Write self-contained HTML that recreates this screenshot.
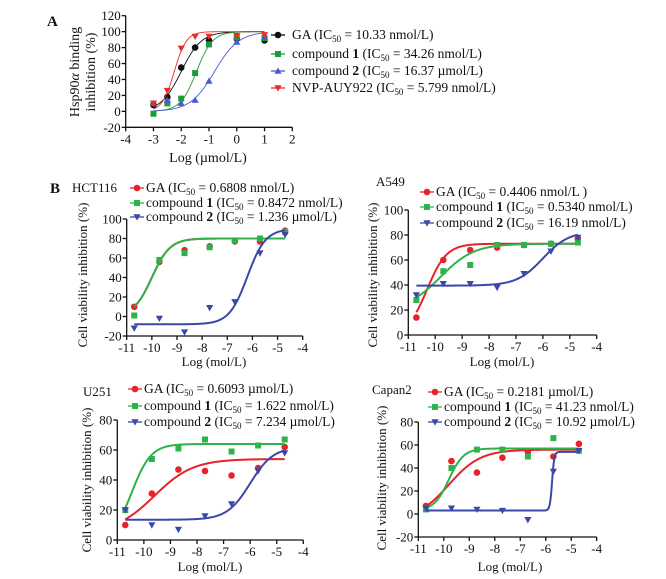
<!DOCTYPE html>
<html><head><meta charset="utf-8">
<style>
html,body{margin:0;padding:0;background:#fff;}
svg{display:block;font-family:"Liberation Serif",serif;}
</style></head>
<body>
<svg id="fig" width="666" height="579" viewBox="0 0 666 579" xmlns="http://www.w3.org/2000/svg"></svg>
<script>
// ---------- data ----------
const aX = [-3,-2.5,-2,-1.5,-1,0,1];
const aGA = [8,18,55,80,89,91,89];
const aC1 = [-3,10,16,48,84,93,92];
const aC2 = [10,14,10,14,38,87,93];
const aNVP = [10,26,79,94,94,95,96];
const aFitGA = [0,100,-2.0,1.2];
const aFitC1 = [0,100,-1.45,1.5];
const aFitC2 = [0,100,-0.8,1.0];
const aFitNVP = [0,100,-2.25,2.0];
const aYTicks = [-20,0,20,40,60,80,100,120];
const aXTicks = [-4,-3,-2,-1,0,1,2];

const bX = [-10.7,-9.7,-8.7,-7.7,-6.7,-5.7,-4.7];
const bXTicks = [-11,-10,-9,-8,-7,-6,-5,-4];

const hctGA = [10,56,68,72,77,77,88];
const hctC1 = [1,58,65,71,78,80,87];
const hctC2 = [-12,-2,-16,9,15,65,84];
const hctFitGA = [0,80,-10.0,1.2];
const hctFitC1 = [0,80,-10.0,1.2];
const hctFitC2 = [-8,90,-6.2,1.2];
const hctYTicks = [-20,0,20,40,60,80,100];

const a549GA = [14,60,68,70,72,73,77];
const a549C1 = [28,51,56,72,72,73,74];
const a549C2 = [32,41,41,38,49,67,78];
const a549FitGA = [0,73,-10.3,1.2];
const a549FitC1 = [20,73,-9.8,0.7];
const a549FitC2 = [39.5,83,-6.0,0.9];
const a549YTicks = [0,20,40,60,80,100];

const u251GA = [10,31,47,46,43,48,62];
const u251C1 = [20,54,61,67,59,63,67];
const u251C2 = [20,10,7,16,24,46,58];
const u251FitGA = [5,54,-9.6,0.6];
const u251FitC1 = [0,64,-10.45,1.2];
const u251FitC2 = [13.5,62,-6.0,1.0];
const u251YTicks = [0,20,40,60,80];

const capGA = [7,46,36,49,54,50,61];
const capC1 = [4,40,56,56,50,66,55];
const capC2 = [5,5,4,3,-5,37,55];
const capFitGA = [-5,56,-9.8,0.7];
const capFitC1 = [3,57,-9.8,1.5];
const capFitC2 = [3,54,-5.75,10];
const capYTicks = [-20,0,20,40,60,80];

// ---------- drawing ----------
const NS="http://www.w3.org/2000/svg";
const svg=document.getElementById('fig');
function mk(tag,attrs,parent){const e=document.createElementNS(NS,tag);for(const k in attrs)e.setAttribute(k,attrs[k]);(parent||svg).appendChild(e);return e;}
function txt(x,y,s,size,anchor,parent,extra){const t=mk('text',Object.assign({x:x,y:y,'font-size':size,'text-anchor':anchor||'start',fill:'#111'},extra||{}),parent);t.innerHTML=s;return t;}
function logistic(p,x){return p[0]+(p[1]-p[0])/(1+Math.pow(10,(p[2]-x)*p[3]));}
function marker(g,shape,x,y,col,s){
  if(shape==='circle') return mk('circle',{cx:x,cy:y,r:s*0.55,fill:col},g);
  if(shape==='square') return mk('rect',{x:x-s*0.5,y:y-s*0.5,width:s,height:s,fill:col},g);
  if(shape==='up') return mk('polygon',{points:`${x},${y-s*0.6} ${x-s*0.6},${y+s*0.45} ${x+s*0.6},${y+s*0.45}`,fill:col},g);
  return mk('polygon',{points:`${x},${y+s*0.6} ${x-s*0.6},${y-s*0.45} ${x+s*0.6},${y-s*0.45}`,fill:col},g);
}
function panel(cfg){
  const g=mk('g',{});
  
  
  const xs=v=>cfg.x0+(v-cfg.xmin)/(cfg.xmax-cfg.xmin)*(cfg.x1-cfg.x0);
  const ys=v=>cfg.y0-(v-cfg.ymin)/(cfg.ymax-cfg.ymin)*(cfg.y0-cfg.y1);
  const ax=mk('g',{stroke:'#111','stroke-width':1.3,fill:'none'},g);
  
  
  mk('line',{x1:cfg.x0,y1:cfg.y0,x2:cfg.x0,y2:cfg.y1},ax);
  mk('line',{x1:cfg.x0,y1:cfg.y0,x2:cfg.x1,y2:cfg.y0},ax);
  cfg.yt.forEach(v=>{mk('line',{x1:cfg.x0-4,y1:ys(v),x2:cfg.x0,y2:ys(v)},ax);
    const t=txt(cfg.x0-5,ys(v)+4.5,String(v),cfg.fs,'end',g);});
  cfg.xt.forEach(v=>{mk('line',{x1:xs(v),y1:cfg.y0,x2:xs(v),y2:cfg.y0+4},ax);
    const t=txt(xs(v),cfg.y0+16,String(v),cfg.fs,'middle',g);});
  cfg.series.forEach(s=>{
    const sg=mk('g',{},g);
    
    
    let d='';const lo=cfg.cx0,hi=cfg.cx1;
    for(let i=0;i<=300;i++){const xv=lo+(hi-lo)*i/300;d+=(i?'L':'M')+xs(xv).toFixed(2)+','+ys(logistic(s.fit,xv)).toFixed(2);}
    const p=mk('path',{d:d,stroke:s.col,'stroke-width':cfg.lw,fill:'none'},sg);
    
    
    s.y.forEach((v,i)=>{const m=marker(sg,s.shape,xs(cfg.xd[i]),ys(v),s.col,cfg.ms);
      
      });
    const lg=mk('g',{},g);
    
    
    mk('line',{x1:s.lx-7,y1:s.ly-4,x2:s.lx+7,y2:s.ly-4,stroke:s.col,'stroke-width':1.3},lg);
    marker(lg,s.shape,s.lx,s.ly-4,s.col,cfg.ms);
    txt(s.lx+cfg.lgap,s.ly,s.label,cfg.lfs,'start',lg);
  });
  if(cfg.ytitle){const t=txt(0,0,cfg.ytitle,cfg.tfs,'middle',g,{transform:`translate(${cfg.ytx},${cfg.yty}) rotate(-90)`});}
  if(cfg.ytitle2){const t=txt(0,0,cfg.ytitle2,cfg.tfs,'middle',g,{transform:`translate(${cfg.ytx2},${cfg.yty}) rotate(-90)`});}
  if(cfg.xtitle){const t=txt(cfg.xtx,cfg.xty,cfg.xtitle,cfg.tfs,'middle',g);}
  if(cfg.cell){const t=txt(cfg.cellx,cfg.celly,cfg.cell,13,'start',g);}
  return g;
}
const sub='<tspan font-size="9" dy="3">50</tspan><tspan dy="-3">';
function lab(name,val){return name+' (IC'+sub+' = '+val+')</tspan>';}
const C1='compound <tspan font-weight="bold">1</tspan>';
const C2='compound <tspan font-weight="bold">2</tspan>';
const R='#e8222b',G='#2db34a',B='#3a48a8';

panel({name:'panel-a',x0:125.7,x1:292.3,y0:127.3,y1:15.7,xmin:-4,xmax:2,ymin:-20,ymax:120,
 yt:aYTicks,xt:aXTicks,xd:aX,cx0:-3,cx1:1,fs:13,lw:0.9,ms:6,lfs:13.5,lgap:14,tfs:14,
 ytitle:'Hsp90<tspan font-style="italic">α</tspan> binding',ytitle2:'inhibition (%)',ytx:79,ytx2:95,yty:72,
 xtitle:'Log (µmol/L)',xtx:208,xty:162,
 series:[
  {id:'ga',y:aGA,fit:aFitGA,col:'#111',shape:'circle',lx:278,ly:39,label:lab('GA','10.33 nmol/L')},
  {id:'compound-1',y:aC1,fit:aFitC1,col:'#1d9a3c',shape:'square',lx:278,ly:58,label:lab(C1,'34.26 nmol/L')},
  {id:'compound-2',y:aC2,fit:aFitC2,col:'#4a5ad0',shape:'up',lx:278,ly:75,label:lab(C2,'16.37 µmol/L')},
  {id:'nvp-auy922',y:aNVP,fit:aFitNVP,col:'#f02828',shape:'down',lx:278,ly:92,label:lab('NVP-AUY922','5.799 nmol/L')}
 ]});
txt(47,26,'A',15,'start',svg,{'font-weight':'bold'});
txt(50,193,'B',15,'start',svg,{'font-weight':'bold'});

panel({name:'panel-hct116',x0:126.7,x1:302.7,y0:336,y1:219,xmin:-11,xmax:-4,ymin:-20,ymax:100,
 yt:hctYTicks,xt:bXTicks,xd:bX,cx0:-10.7,cx1:-4.7,fs:13,lw:2,ms:6,lfs:13.5,lgap:9,tfs:13,
 ytitle:'Cell viability inhibition (%)',ytx:87,yty:275,xtitle:'Log (mol/L)',xtx:214,xty:366,
 cell:'HCT116',cellx:72,celly:192,
 series:[
  {id:'ga',y:hctGA,fit:hctFitGA,col:R,shape:'circle',lx:137,ly:192,label:lab('GA','0.6808 nmol/L')},
  {id:'compound-1',y:hctC1,fit:hctFitC1,col:G,shape:'square',lx:137,ly:207,label:lab(C1,'0.8472 nmol/L')},
  {id:'compound-2',y:hctC2,fit:hctFitC2,col:B,shape:'down',lx:137,ly:221,label:lab(C2,'1.236 µmol/L')}
 ]});
panel({name:'panel-a549',x0:408.3,x1:596.7,y0:335,y1:210,xmin:-11,xmax:-4,ymin:0,ymax:100,
 yt:a549YTicks,xt:bXTicks,xd:bX,cx0:-10.7,cx1:-4.7,fs:13,lw:2,ms:6,lfs:13.5,lgap:9,tfs:13,
 ytitle:'Cell viability inhibition (%)',ytx:377,yty:275,xtitle:'Log (mol/L)',xtx:502,xty:366,
 cell:'A549',cellx:376,celly:186,
 series:[
  {id:'ga',y:a549GA,fit:a549FitGA,col:R,shape:'circle',lx:427,ly:196,label:lab('GA','0.4406 nmol/L ')},
  {id:'compound-1',y:a549C1,fit:a549FitC1,col:G,shape:'square',lx:427,ly:211,label:lab(C1,'0.5340 nmol/L')},
  {id:'compound-2',y:a549C2,fit:a549FitC2,col:B,shape:'down',lx:427,ly:227,label:lab(C2,'16.19 nmol/L')}
 ]});
panel({name:'panel-u251',x0:117.3,x1:303.3,y0:540,y1:420,xmin:-11,xmax:-4,ymin:0,ymax:80,
 yt:u251YTicks,xt:bXTicks,xd:bX,cx0:-10.7,cx1:-4.7,fs:13,lw:2,ms:6,lfs:13.5,lgap:9,tfs:13,
 ytitle:'Cell viability inhibition (%)',ytx:91,yty:480,xtitle:'Log (mol/L)',xtx:210,xty:571,
 cell:'U251',cellx:83,celly:396,
 series:[
  {id:'ga',y:u251GA,fit:u251FitGA,col:R,shape:'circle',lx:135,ly:393,label:lab('GA','0.6093 µmol/L')},
  {id:'compound-1',y:u251C1,fit:u251FitC1,col:G,shape:'square',lx:135,ly:410,label:lab(C1,'1.622 nmol/L')},
  {id:'compound-2',y:u251C2,fit:u251FitC2,col:B,shape:'down',lx:135,ly:426,label:lab(C2,'7.234 µmol/L')}
 ]});
panel({name:'panel-capan2',x0:418.3,x1:596.7,y0:537,y1:422,xmin:-11,xmax:-4,ymin:-20,ymax:80,
 yt:capYTicks,xt:bXTicks,xd:bX,cx0:-10.7,cx1:-4.7,fs:13,lw:2,ms:6,lfs:13.5,lgap:9,tfs:13,
 ytitle:'Cell viability inhibition (%)',ytx:386,yty:478,xtitle:'Log (mol/L)',xtx:510,xty:571,
 cell:'Capan2',cellx:372,celly:394,
 series:[
  {id:'ga',y:capGA,fit:capFitGA,col:R,shape:'circle',lx:435,ly:396,label:lab('GA','0.2181 µmol/L')},
  {id:'compound-1',y:capC1,fit:capFitC1,col:G,shape:'square',lx:435,ly:411,label:lab(C1,'41.23 nmol/L')},
  {id:'compound-2',y:capC2,fit:capFitC2,col:B,shape:'down',lx:435,ly:426,label:lab(C2,'10.92 µmol/L')}
 ]});
</script>
</body></html>
